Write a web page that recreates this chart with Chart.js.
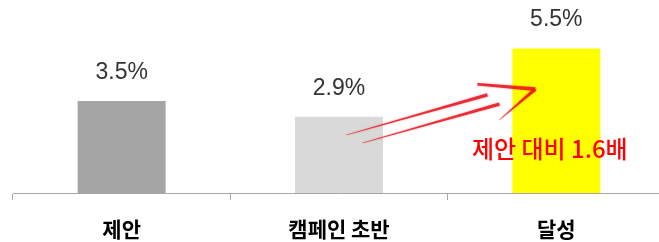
<!DOCTYPE html>
<html lang="ko">
<head>
    <meta charset="UTF-8">
    <title>Campaign Result</title>
    <script src="https://cdn.jsdelivr.net/npm/chart.js"></script>
    <style>
        html, body { margin: 0; padding: 0; background: #fff; overflow: hidden; }
        .chart-container { position: relative; width: 672px; height: 242px; }
    </style>
</head>
<body>
    <div class="chart-container">
        <canvas id="resultChart"></canvas>
    </div>
    <script>
        // chart data
        const categories = ['제안', '캠페인 초반', '달성'];
        const rates = [3.5, 2.9, 5.5];
        const valueLabels = ['3.5%', '2.9%', '5.5%'];
        const barColors = ['#a5a5a5', '#d9d9d9', '#ffff00'];
        const noteText = '제안 대비 1.6배';

        // hand drawn arrow, in [category index, value] space
        const arrowStrokes = [
            [[1.034, 2.21], [1.683, 3.73]],
            [[1.108, 1.90], [1.738, 3.38]],
            [[1.637, 4.14], [1.903, 3.95]],
            [[1.903, 3.95], [1.738, 2.78]]
        ];
        const notePos = [1.97, 1.68];

        function taperLine(ctx, a, b, w0, w1) {
            const dx = b[0] - a[0], dy = b[1] - a[1];
            const len = Math.hypot(dx, dy) || 1;
            const nx = -dy / len, ny = dx / len;
            ctx.beginPath();
            ctx.moveTo(a[0] + nx * w0 / 2, a[1] + ny * w0 / 2);
            ctx.lineTo(b[0] + nx * w1 / 2, b[1] + ny * w1 / 2);
            ctx.lineTo(b[0] - nx * w1 / 2, b[1] - ny * w1 / 2);
            ctx.lineTo(a[0] - nx * w0 / 2, a[1] - ny * w0 / 2);
            ctx.closePath();
            ctx.fill();
        }

        const labelPlugin = {
            id: 'valueLabels',
            afterDatasetsDraw(chart) {
                const ctx = chart.ctx;
                const meta = chart.getDatasetMeta(0);
                ctx.save();
                ctx.font = '23px "Liberation Sans", Arial, sans-serif';
                ctx.fillStyle = '#333333';
                ctx.textAlign = 'center';
                ctx.textBaseline = 'middle';
                meta.data.forEach((bar, i) => {
                    ctx.fillText(valueLabels[i], bar.x, bar.y - 28.5);
                });

                // arrow + note
                const xs = chart.scales.x, ys = chart.scales.y;
                const px = p => [xs.getPixelForValue(p[0]), ys.getPixelForValue(p[1])];
                ctx.fillStyle = 'rgba(235, 20, 30, 0.85)';
                ctx.shadowColor = 'rgba(235, 20, 30, 0.5)';
                ctx.shadowBlur = 2;
                taperLine(ctx, px(arrowStrokes[0][0]), px(arrowStrokes[0][1]), 0.5, 3.4);
                taperLine(ctx, px(arrowStrokes[1][0]), px(arrowStrokes[1][1]), 0.5, 3.4);
                taperLine(ctx, px(arrowStrokes[2][0]), px(arrowStrokes[2][1]), 2.5, 3.6);
                taperLine(ctx, px(arrowStrokes[3][0]), px(arrowStrokes[3][1]), 3.6, 0.5);
                ctx.shadowBlur = 0;

                const np = px(notePos);
                ctx.fillStyle = '#ff0000';
                ctx.font = '500 24px "Noto Sans CJK KR", sans-serif';
                ctx.fillText(noteText, np[0], np[1]);
                ctx.restore();
            }
        };

        function draw() {
            const ctx = document.getElementById('resultChart').getContext('2d');
            new Chart(ctx, {
                type: 'bar',
                data: {
                    labels: categories,
                    datasets: [{
                        data: rates,
                        backgroundColor: barColors,
                        barPercentage: 88 / 217.5,
                        categoryPercentage: 1
                    }]
                },
                options: {
                    responsive: true,
                    maintainAspectRatio: false,
                    animation: false,
                    layout: { padding: { left: 13, right: 7, top: 0, bottom: 0 } },
                    plugins: {
                        legend: { display: false },
                        tooltip: { enabled: false }
                    },
                    scales: {
                        x: {
                            grid: {
                                drawOnChartArea: false,
                                tickLength: 7,
                                color: '#a6a6a6'
                            },
                            border: { color: '#a6a6a6', width: 1 },
                            ticks: {
                                color: '#000000',
                                padding: 16,
                                font: { family: '"Noto Sans CJK KR", sans-serif', size: 21, weight: 'bold' }
                            },
                            afterFit(scale) { scale.height = 49; }
                        },
                        y: {
                            display: false,
                            min: 0,
                            max: 7.34
                        }
                    }
                },
                plugins: [labelPlugin]
            });
        }

        Promise.all([
            document.fonts.load('bold 21px "Noto Sans CJK KR"'),
            document.fonts.load('500 24px "Noto Sans CJK KR"'),
            document.fonts.load('23px "Liberation Sans"')
        ]).then(draw, draw);
    </script>
</body>
</html>
